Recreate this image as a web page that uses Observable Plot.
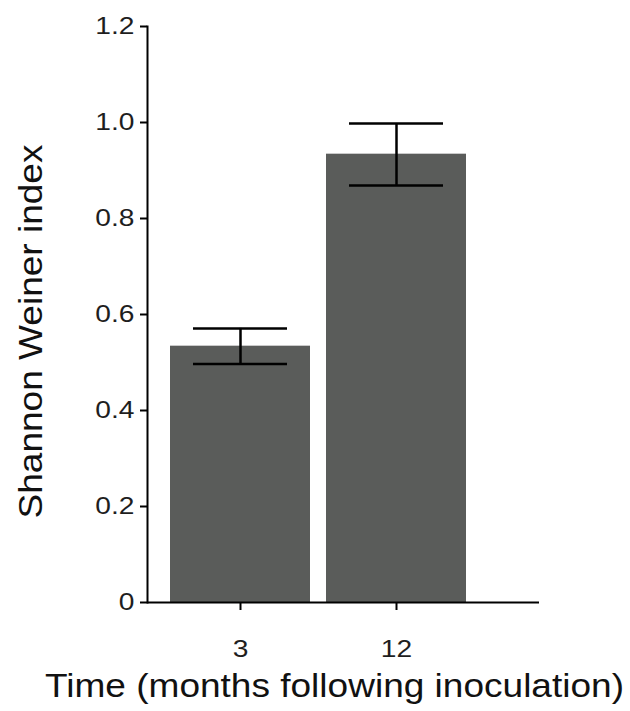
<!DOCTYPE html>
<html>
<head>
<meta charset="utf-8">
<script src="https://cdn.jsdelivr.net/npm/d3@7"></script>
<script src="https://cdn.jsdelivr.net/npm/@observablehq/plot@0.6"></script>
<style>
  html, body { margin: 0; padding: 0; background: #fff; }
</style>
</head>
<body>
<div id="chart"></div>
<script>
const months = ["3", "12"];
const means = [0.534, 0.934];
const lower = [0.497, 0.869];
const upper = [0.571, 0.998];
const yTicks = [0, 0.2, 0.4, 0.6, 0.8, 1.0, 1.2];
const xTitle = "Time (months following inoculation)";
const yTitle = "Shannon Weiner index";

const data = months.map((m, i) => ({month: m, mean: means[i], lo: lower[i], hi: upper[i]}));

const chart = Plot.plot({
  width: 630,
  height: 711,
  marginLeft: 147,
  marginRight: 91,
  marginTop: 26,
  marginBottom: 109,
  style: {fontFamily: "'Liberation Sans', Arial, Helvetica, sans-serif", background: "#fff"},
  x: {domain: months, range: [170, 466], paddingInner: 0.1026, paddingOuter: 0},
  y: {domain: [0, 1.2]},
  marks: [
    Plot.barY(data, {x: "month", y: "mean", fill: "#5a5c5a"}),
    Plot.ruleX(data, {x: "month", y1: "lo", y2: "hi", stroke: "#000", strokeWidth: 2.5}),
    Plot.tickY(data, {x: "month", y: "lo", stroke: "#000", strokeWidth: 2.5, inset: 23}),
    Plot.tickY(data, {x: "month", y: "hi", stroke: "#000", strokeWidth: 2.5, inset: 23}),
    Plot.frame({anchor: "left", stroke: "#000", strokeWidth: 2}),
    Plot.ruleY([0], {stroke: "#000", strokeWidth: 2}),
    Plot.axisY({ticks: yTicks, tickFormat: d => d === 0 ? "0" : d.toFixed(1), tickSize: 7, tickPadding: 6, fontSize: 24.5, fill: "#1e1e1e", stroke: "#000", strokeWidth: 2, label: null}),
    Plot.axisX({tickSize: 8, tickPadding: 29, fontSize: 24.5, fill: "#1e1e1e", stroke: "#000", strokeWidth: 2, label: null}),
    Plot.text([yTitle], {text: d => d, frameAnchor: "left", textAnchor: "middle", lineAnchor: "middle", rotate: -90, dx: -116, dy: 17, fontSize: 32.5, fill: "#111"}),
    Plot.text([xTitle], {text: d => d, frameAnchor: "bottom", textAnchor: "middle", lineAnchor: "middle", dx: -9, dy: 84, fontSize: 32.5, fill: "#111"})
  ]
});

// widen glyphs along the text direction to match the reference typeface
function stretch(sel, s) {
  chart.querySelectorAll(sel).forEach(el => {
    const t = el.getAttribute("transform") || "";
    el.setAttribute("transform", `${t} scale(${s},1)`.trim());
  });
}
stretch("g[aria-label='y-axis tick label'] text, g[aria-label='x-axis tick label'] text", 1.15);
stretch("g[aria-label='text'] text", 1.14);

document.getElementById("chart").appendChild(chart);
</script>
</body>
</html>
